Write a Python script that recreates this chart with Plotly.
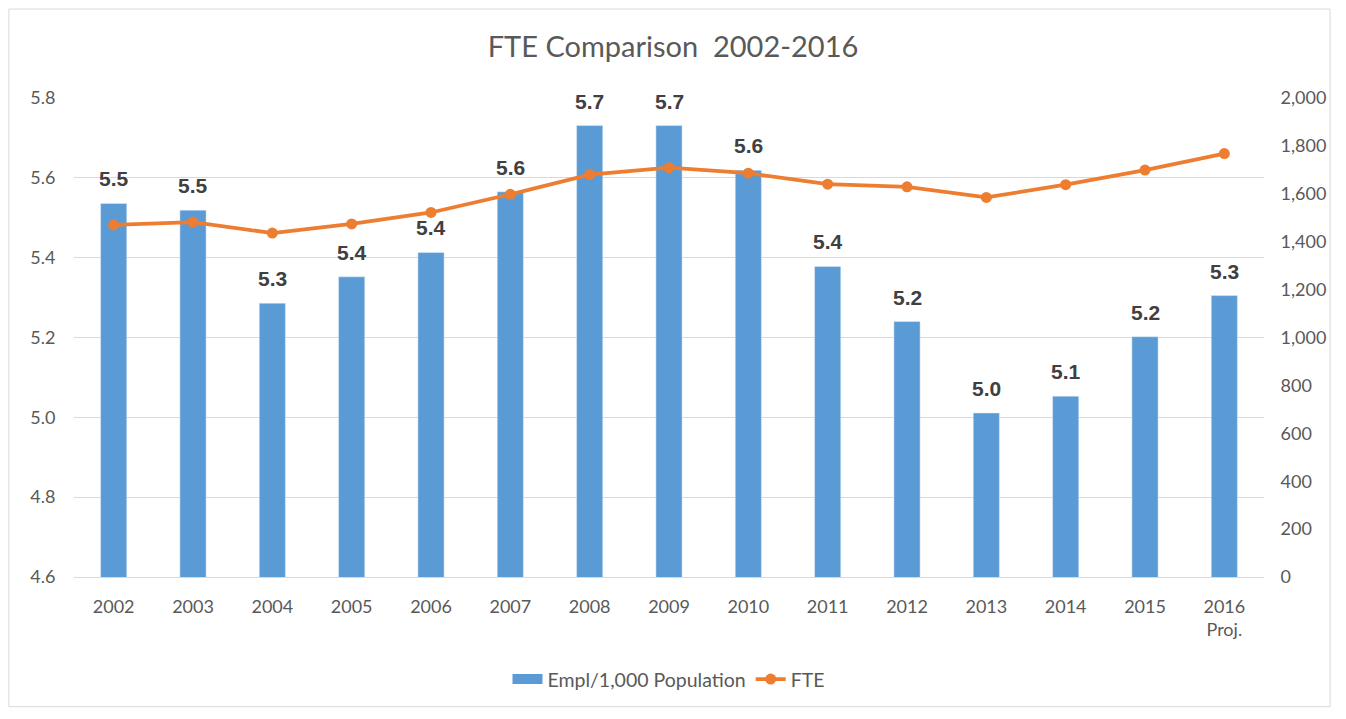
import plotly.graph_objects as go

years = ["2002", "2003", "2004", "2005", "2006", "2007", "2008", "2009",
         "2010", "2011", "2012", "2013", "2014", "2015", "2016"]
tick_labels = ["2002", "2003", "2004", "2005", "2006", "2007", "2008", "2009",
               "2010", "2011", "2012", "2013", "2014", "2015", "2016<br>Proj."]
empl_per_1000 = [5.536, 5.519, 5.286, 5.352, 5.413, 5.565, 5.731, 5.731,
                 5.619, 5.378, 5.240, 5.011, 5.053, 5.202, 5.305]
fte = [1470, 1482, 1436, 1474, 1522, 1598, 1680, 1709,
       1686, 1640, 1629, 1585, 1638, 1699, 1768]

left_ticks = [4.6, 4.8, 5.0, 5.2, 5.4, 5.6, 5.8]
right_ticks = [0, 200, 400, 600, 800, 1000, 1200, 1400, 1600, 1800, 2000]

FONT = "Lato"
GRAY = "#595959"
BLUE = "#5b9bd5"
ORANGE = "#ed7d31"

# page body has an 8px margin; figure is sized so the page fits the window
W, H = 1330, 703
OFF = 8
PL, PR, PT, PB = 74 - OFF, 1271 - OFF, 98 - OFF, 580 - OFF
PW, PH = PR - PL, PB - PT

fig = go.Figure()
fig.add_trace(go.Bar(
    x=years, y=empl_per_1000, name="Empl/1,000 Population",
    marker_color=BLUE, width=0.33, yaxis="y", showlegend=False,
))
fig.add_trace(go.Scatter(
    x=years, y=fte, name="FTE", mode="lines+markers",
    line=dict(color=ORANGE, width=3.8),
    marker=dict(color=ORANGE, size=11),
    yaxis="y2", showlegend=False,
))
# legend entries
fig.add_trace(go.Scatter(
    x=[years[0]], y=[None], name="Empl/1,000 Population", mode="lines",
    line=dict(color=BLUE, width=13), yaxis="y",
))
fig.add_trace(go.Scatter(
    x=[years[0]], y=[None], name="FTE", mode="lines+markers",
    line=dict(color=ORANGE, width=3.8), marker=dict(color=ORANGE, size=11),
    yaxis="y2",
))

annotations = [
    dict(x=i, y=v, xref="x", yref="y", text=f"{round(v + 1e-9, 1):.1f}",
         showarrow=False, yanchor="bottom", yshift=11,
         font=dict(family="Liberation Sans", size=21, color="#404040", weight="bold"))
    for i, v in enumerate(empl_per_1000)
]

fig.update_layout(
    width=W, height=H,
    paper_bgcolor="white", plot_bgcolor="white",
    margin=dict(l=PL, r=W - PR, t=PT, b=H - PB),
    title=dict(text="FTE Comparison  2002-2016", x=0.5, xanchor="center",
               y=1 - (47 - OFF) / H, yanchor="middle",
               font=dict(family=FONT, size=29, color=GRAY)),
    font=dict(family=FONT, size=18, color=GRAY),
    xaxis=dict(type="category", tickmode="array", tickvals=years,
               ticktext=tick_labels, range=[-0.5, 14.5],
               showgrid=False, showline=True, linecolor="#d9d9d9",
               ticks="outside", ticklen=13, tickcolor="rgba(0,0,0,0)",
               tickfont=dict(size=18, color=GRAY)),
    yaxis=dict(range=[4.6, 5.8], tickvals=left_ticks,
               ticktext=[f"{v:.1f}" for v in left_ticks],
               showgrid=True, gridcolor="#d9d9d9", gridwidth=1,
               zeroline=False, ticks="outside", ticklen=14,
               tickcolor="rgba(0,0,0,0)",
               tickfont=dict(size=18, color=GRAY)),
    yaxis2=dict(range=[0, 2000], tickvals=right_ticks,
                ticktext=[f"{v:,}" for v in right_ticks],
                overlaying="y", side="right", showgrid=False,
                zeroline=False, ticks="outside", ticklen=12,
                tickcolor="rgba(0,0,0,0)",
                tickfont=dict(size=18, color=GRAY)),
    legend=dict(orientation="h", x=0.5, xanchor="center",
                y=(PB - (683 - OFF)) / PH, yanchor="middle",
                font=dict(size=19.5, color=GRAY)),
    annotations=annotations,
    shapes=[dict(type="rect", xref="paper", yref="paper",
                 x0=(0.5 - PL) / PW, x1=(W - 0.5 - PL) / PW,
                 y0=(PB - (H - 0.5)) / PH, y1=(PB - 0.5) / PH,
                 line=dict(color="#d9d9d9", width=1), layer="below")],
)

fig.write_html("out.html")
